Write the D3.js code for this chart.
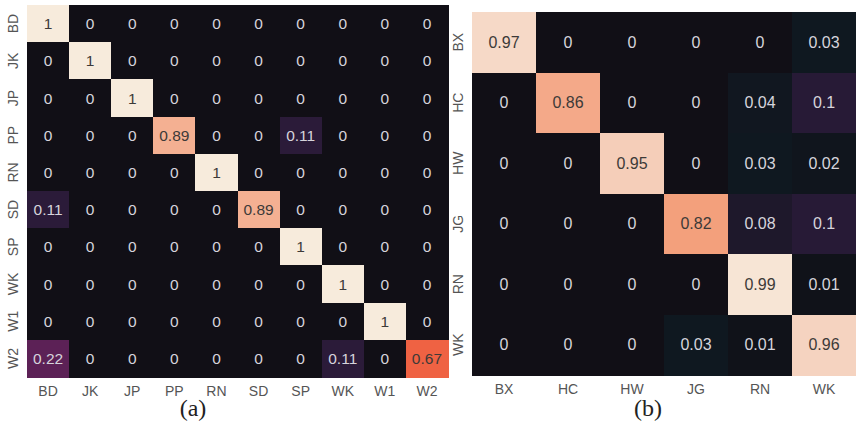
<!DOCTYPE html>
<html>
<head>
<meta charset="utf-8">
<script src="https://cdn.jsdelivr.net/npm/d3@7"></script>
<style>
  html, body { margin: 0; padding: 0; background: #fff; }
  svg { display: block; }
</style>
</head>
<body>
<svg id="chart" width="856" height="427"></svg>
<script>
// Confusion matrix (a): 10 classes
const classesA = ["BD", "JK", "JP", "PP", "RN", "SD", "SP", "WK", "W1", "W2"];
const valuesA = [
  [1, 0, 0, 0, 0, 0, 0, 0, 0, 0],
  [0, 1, 0, 0, 0, 0, 0, 0, 0, 0],
  [0, 0, 1, 0, 0, 0, 0, 0, 0, 0],
  [0, 0, 0, 0.89, 0, 0, 0.11, 0, 0, 0],
  [0, 0, 0, 0, 1, 0, 0, 0, 0, 0],
  [0.11, 0, 0, 0, 0, 0.89, 0, 0, 0, 0],
  [0, 0, 0, 0, 0, 0, 1, 0, 0, 0],
  [0, 0, 0, 0, 0, 0, 0, 1, 0, 0],
  [0, 0, 0, 0, 0, 0, 0, 0, 1, 0],
  [0.22, 0, 0, 0, 0, 0, 0, 0.11, 0, 0.67]
];

// Confusion matrix (b): 6 classes
const classesB = ["BX", "HC", "HW", "JG", "RN", "WK"];
const valuesB = [
  [0.97, 0, 0, 0, 0, 0.03],
  [0, 0.86, 0, 0, 0.04, 0.1],
  [0, 0, 0.95, 0, 0.03, 0.02],
  [0, 0, 0, 0.82, 0.08, 0.1],
  [0, 0, 0, 0, 0.99, 0.01],
  [0, 0, 0, 0.03, 0.01, 0.96]
];

const captions = ["(a)", "(b)"];

// Rocket-like colour ramp
const colorStops = [0, 0.03, 0.06, 0.1, 0.22, 0.67, 0.82, 0.89, 0.96, 1];
const colorRange = ["#110f16", "#0f1820", "#14151f", "#271a36", "#5c2156", "#ef6243", "#f3a07c", "#f4b092", "#f5d3c0", "#f7ebdc"];
const color = d3.scaleLinear().domain(colorStops).range(colorRange).interpolate(d3.interpolateRgb).clamp(true);

const svg = d3.select("#chart");
const sans = "Liberation Sans, Arial, sans-serif";

function heatmap(cfg) {
  const { classes, values, x0, x1, y0, y1, fontSize, caption, capX } = cfg;
  const g = svg.append("g");
  const x = d3.scaleBand().domain(classes).range([x0, x1]);
  const y = d3.scaleBand().domain(classes).range([y0, y1]);

  const cells = [];
  values.forEach((row, i) => row.forEach((v, j) => cells.push({ r: classes[i], c: classes[j], v })));

  g.selectAll("rect.cell").data(cells).join("rect")
    .attr("class", "cell")
    .attr("shape-rendering", "crispEdges")
    .attr("x", d => x(d.c))
    .attr("y", d => y(d.r))
    .attr("width", x.bandwidth() + 0.6)
    .attr("height", y.bandwidth() + 0.6)
    .attr("fill", d => color(d.v));

  g.selectAll("text.val").data(cells).join("text")
    .attr("class", "val")
    .attr("x", d => x(d.c) + x.bandwidth() / 2)
    .attr("y", d => y(d.r) + y.bandwidth() / 2)
    .attr("text-anchor", "middle")
    .attr("dominant-baseline", "central")
    .attr("font-family", sans)
    .attr("font-size", fontSize)
    .attr("fill", d => d.v > 0.5 ? "#3d3a38" : "#d6d4dc")
    .text(d => d3.format("~g")(d.v));

  // bottom axis
  const xAxis = g.append("g").attr("transform", `translate(0,${y1})`)
    .call(d3.axisBottom(x).tickSize(0).tickPadding(9));
  xAxis.select(".domain").remove();
  xAxis.selectAll("text")
    .attr("font-family", sans)
    .attr("font-size", 14)
    .attr("fill", "#555");

  // left axis, rotated labels
  const yAxis = g.append("g").attr("transform", `translate(${x0},0)`)
    .call(d3.axisLeft(y).tickSize(0).tickPadding(0));
  yAxis.select(".domain").remove();
  yAxis.selectAll("text")
    .attr("font-family", sans)
    .attr("font-size", 14)
    .attr("fill", "#555")
    .attr("text-anchor", "middle")
    .attr("x", null).attr("dy", null)
    .attr("transform", "translate(-14,0) rotate(-90)")
    .attr("dominant-baseline", "central");

  svg.append("text")
    .attr("x", capX).attr("y", 416)
    .attr("text-anchor", "middle")
    .attr("font-family", "Liberation Serif, Times New Roman, serif")
    .attr("font-size", 24)
    .attr("fill", "#222")
    .text(caption);
}

heatmap({ classes: classesA, values: valuesA, x0: 27, x1: 448, y0: 5, y1: 377, fontSize: 15.5, caption: captions[0], capX: 193 });
heatmap({ classes: classesB, values: valuesB, x0: 472, x1: 856, y0: 12, y1: 375, fontSize: 16, caption: captions[1], capX: 648 });
</script>
</body>
</html>
